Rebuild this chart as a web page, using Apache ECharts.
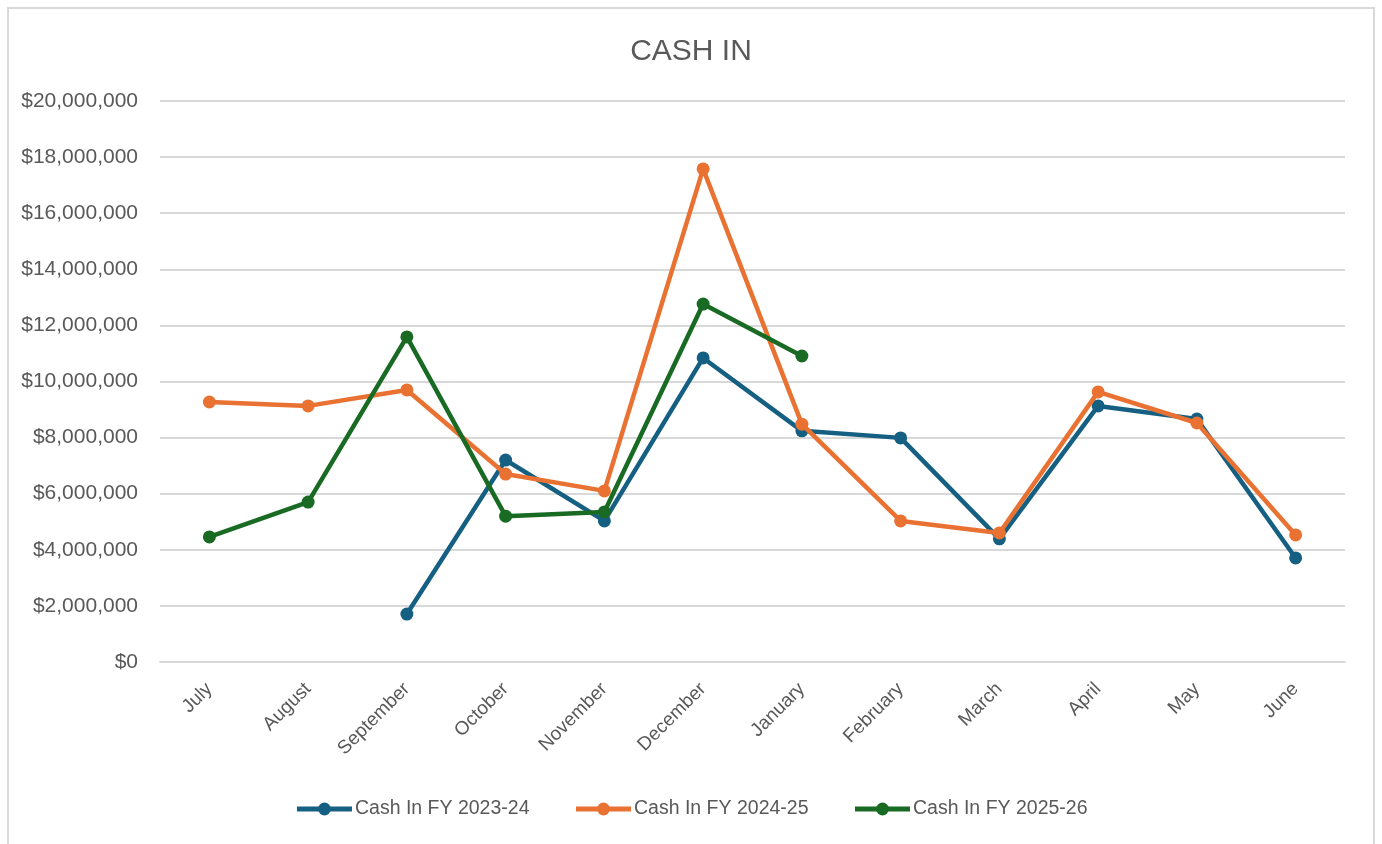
<!DOCTYPE html>
<html>
<head>
<meta charset="utf-8">
<script src="https://cdn.jsdelivr.net/npm/echarts@6/dist/echarts.min.js"></script>
<style>
html,body{margin:0;padding:0;background:#fff;}
#wrap{position:absolute;left:7px;top:7px;width:1368px;height:840px;border:2px solid #d9d9d9;box-sizing:border-box;}
#chart{position:absolute;left:0;top:0;width:1382px;height:844px;}
</style>
</head>
<body>
<div id="wrap"></div>
<div id="chart"></div>
<script>
const categories = ["July","August","September","October","November","December","January","February","March","April","May","June"];
const fy2324 = [null, null, 1710000, 7200000, 5030000, 10840000, 8240000, 7990000, 4390000, 9130000, 8660000, 3710000];
const fy2425 = [9270000, 9130000, 9700000, 6700000, 6100000, 17580000, 8480000, 5030000, 4600000, 9630000, 8520000, 4530000];
const fy2526 = [4460000, 5700000, 11590000, 5200000, 5350000, 12760000, 10910000, null, null, null, null, null];
const seriesNames = ["Cash In FY 2023-24","Cash In FY 2024-25","Cash In FY 2025-26"];
const colors = ["#156082","#E97132","#196B24"];

const chart = echarts.init(document.getElementById('chart'), null, {renderer:'canvas'});
const font = "Liberation Sans";
function mk(name, data, color, z){
  return {name:name, type:'line', data:data, z:z, color:color,
    symbol:'circle', symbolSize:13, showSymbol:true,
    lineStyle:{width:4.5, color:color}, itemStyle:{color:color},
    connectNulls:false};
}
chart.setOption({
  animation:false,
  title:{text:'CASH IN', left:'center', top:32, textStyle:{fontFamily:font, fontSize:30, fontWeight:'normal', color:'#595959'}},
  grid:{left:160, right:37, top:101, bottom:182},
  legend:{top:794, left:'center', itemWidth:55, itemHeight:16, itemGap:44,
    lineStyle:{width:5},
    textStyle:{fontFamily:font, fontSize:19.5, color:'#595959', padding:[0,0,0,-2]},
    data:seriesNames},
  xAxis:{type:'category', data:categories, boundaryGap:true,
    axisLine:{lineStyle:{color:'#d9d9d9', width:2}}, axisTick:{show:false},
    axisLabel:{rotate:45, fontFamily:font, fontSize:19, color:'#595959', margin:24, interval:0}},
  yAxis:{type:'value', min:0, max:20000000, interval:2000000,
    axisLine:{show:false}, axisTick:{show:false},
    splitLine:{lineStyle:{color:'#d9d9d9', width:2}},
    axisLabel:{fontFamily:font, fontSize:21, color:'#595959', margin:22,
      formatter:function(v){return '$'+v.toLocaleString('en-US');}}},
  series:[mk(seriesNames[0], fy2324, colors[0], 2), mk(seriesNames[1], fy2425, colors[1], 3), mk(seriesNames[2], fy2526, colors[2], 4)]
});
</script>
</body>
</html>
